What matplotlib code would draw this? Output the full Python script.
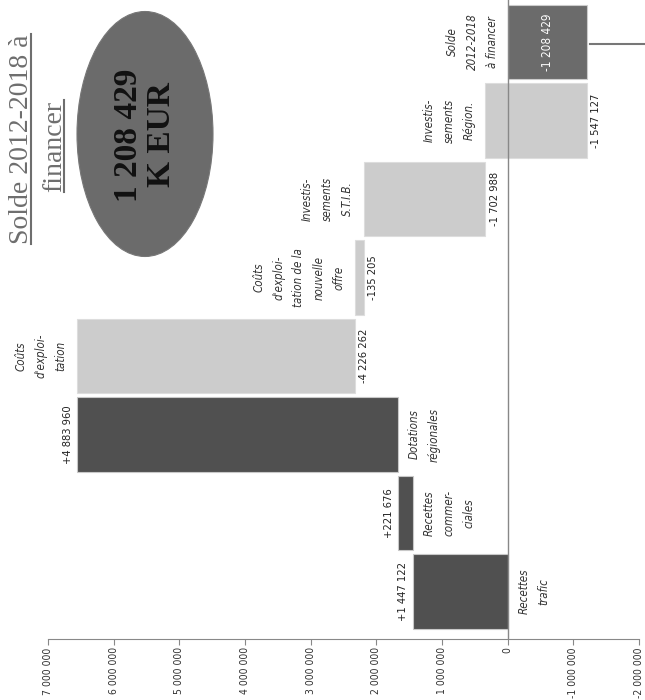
import numpy as np
import matplotlib.pyplot as plt
from matplotlib.patches import Ellipse
from matplotlib.lines import Line2D

# données (K EUR)
categories = ["Recettes\ntrafic", "Recettes\ncommer-\nciales", "Dotations\nrégionales",
              "Coûts\nd'exploi-\ntation", "Coûts\nd'exploi-\ntation de la\nnouvelle\noffre",
              "Investis-\nsements\nS.T.I.B.", "Investis-\nsements\nRégion.",
              "Solde\n2012-2018\nà financer"]
deltas = [1447122, 221676, 4883960, -4226262, -135205, -1702988, -1547127]
value_labels = ["+1 447 122", "+221 676", "+4 883 960", "-4 226 262",
                "-135 205", "-1 702 988", "-1 547 127"]
solde = -1208429
solde_label = "-1 208 429"
tick_values = [7000000, 6000000, 5000000, 4000000, 3000000, 2000000, 1000000, 0,
               -1000000, -2000000]
tick_labels = ["7 000 000", "6 000 000", "5 000 000", "4 000 000", "3 000 000",
               "2 000 000", "1 000 000", "0", "-1 000 000", "-2 000 000"]

sans = dict(family="DejaVu Sans", fontstretch="condensed")
serif = ["Liberation Serif", "DejaVu Serif"]
fs = 8

# cascade : on avance depuis 0, les deux derniers pas sont accrochés au solde
# (les montants publiés ne s'additionnent pas exactement)
start = np.zeros(len(deltas))
end = np.zeros(len(deltas))
run = 0
for i in range(5):
    start[i] = run
    run += deltas[i]
    end[i] = run
end[6] = solde
start[6] = solde - deltas[6]
start[5] = run
end[5] = start[6]

fig = plt.figure(figsize=(6.45, 7.0), dpi=100)
ax = fig.add_axes([48 / 645, 61 / 700, 591 / 645, 639 / 700])

dark, light, sold_col = "#505050", "#cccccc", "#6b6b6b"
h = 0.955
for i, d in enumerate(deltas):
    col = dark if d > 0 else light
    ax.barh(i, end[i] - start[i], left=start[i], height=h, color=col,
            edgecolor="#c8c8c8" if d > 0 else "#dddddd", linewidth=0.8, zorder=2)
    hi, lo = max(start[i], end[i]), min(start[i], end[i])
    if d > 0:
        vpos, cpos = hi, lo
    else:
        vpos, cpos = lo, hi
    # valeur : côté droit pour les négatifs, gauche pour les positifs (axe inversé)
    sgn = -1 if d > 0 else 1
    ax.annotate(value_labels[i], xy=(vpos, i), xytext=(sgn * 3, 0),
                textcoords="offset points", rotation=90, ha="right" if d > 0 else "left",
                va="center", fontsize=fs, color="#222222", **sans)
    ax.annotate(categories[i], xy=(cpos, i), xytext=(-sgn * 7, 0),
                textcoords="offset points", rotation=90, ha="left" if d > 0 else "right",
                va="center", fontsize=8.3, style="italic", color="#333333",
                multialignment="center", linespacing=1.7, **sans)

n = len(deltas)
ax.barh(n, solde, left=0, height=h, color=sold_col, edgecolor="#cccccc",
        linewidth=0.8, zorder=2)
ax.text(solde / 2, n, solde_label, rotation=90, ha="center", va="center",
        fontsize=8.5, color="white", **sans)
ax.annotate(categories[n], xy=(0, n), xytext=(-6, 0), textcoords="offset points",
            rotation=90, ha="right", va="center", fontsize=8.3, style="italic",
            color="#333333", multialignment="center", linespacing=1.7, **sans)
ax.plot([-1250000, -2100000], [n - 0.03, n - 0.03], color="#777777", lw=1.5,
        clip_on=False, zorder=3)

ax.axvline(0, color="#888888", lw=1, zorder=3)
ax.set_xlim(7000000, -2000000)
ax.set_ylim(-0.605, 7.535)
ax.set_yticks([])
ax.set_xticks(tick_values)
ax.set_xticklabels(tick_labels, rotation=90, fontsize=7.5, color="#333333", **sans)
ax.tick_params(axis="x", length=4, color="#888888", pad=2)
for s in ["left", "right", "top"]:
    ax.spines[s].set_visible(False)
ax.spines["bottom"].set_color("#888888")
ax.patch.set_alpha(0)

# titre souligné
t1 = fig.text(22 / 645, 1 - 139 / 700, "Solde 2012-2018 à", rotation=90, ha="center",
              va="center", fontsize=20, family=serif, color="#6e6e6e")
t2 = fig.text(55 / 645, 1 - 146 / 700, "financer", rotation=90, ha="center",
              va="center", fontsize=20, family=serif, color="#6e6e6e")

# bulle
fig.add_artist(Ellipse((145 / 645, 1 - 134 / 700), 136 / 645, 245 / 700,
                       transform=fig.transFigure, facecolor="#6b6b6b",
                       edgecolor="#777777", lw=0.8))
fig.text(145 / 645, 1 - 135 / 700, "1 208 429\nK EUR", rotation=90, ha="center",
         va="center", fontsize=24, family=serif, weight="bold", color="#111111",
         multialignment="center", linespacing=1.05)

fig.canvas.draw()
r = fig.canvas.get_renderer()
for t in (t1, t2):
    bb = t.get_window_extent(r)
    x = (bb.x1 - 4) / fig.bbox.width
    fig.add_artist(Line2D([x, x], [bb.y0 / fig.bbox.height, bb.y1 / fig.bbox.height],
                          transform=fig.transFigure, color="#6e6e6e", lw=1.5))

fig.savefig("out.png", dpi=100)
